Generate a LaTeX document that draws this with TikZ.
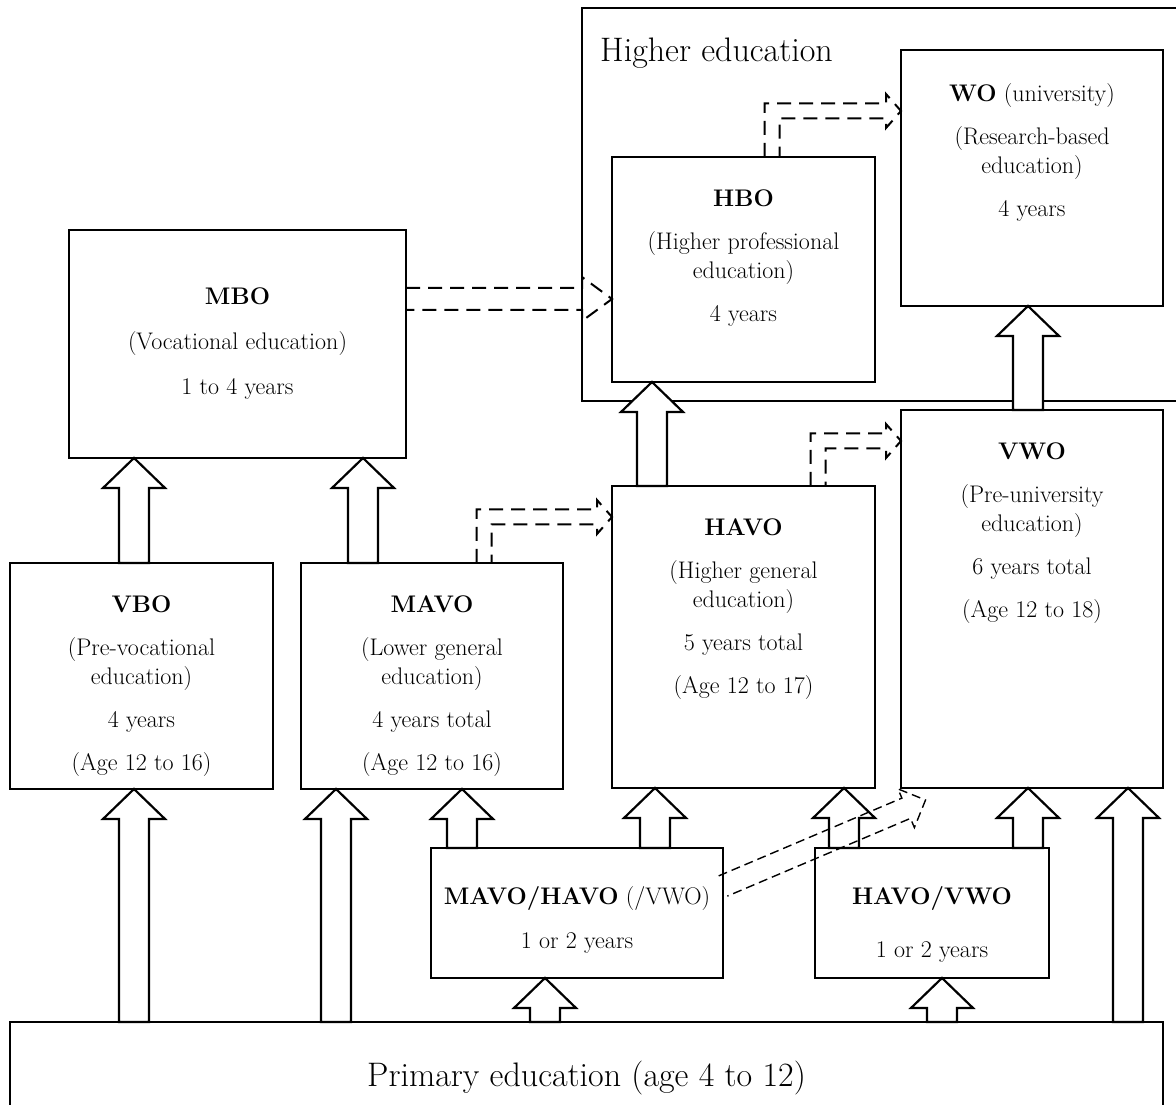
\documentclass[tikz,border=0pt]{standalone}
\usetikzlibrary{calc}

\tikzset{
  box/.style={draw, line width=1.3pt, inner sep=0pt, outer sep=0pt, anchor=north west},
  boxtext/.style={anchor=north, align=center, inner sep=0pt, font=\fontsize{24}{29}\selectfont},
  bigtext/.style={inner sep=0pt, font=\fontsize{34}{40}\selectfont},
  blockarrow/.style={draw, line width=2.2pt, fill=white, line join=miter},
  dasharrow/.style={draw, line width=2pt, dash pattern=on 14pt off 8pt},
  thindash/.style={draw, line width=1.4pt, dash pattern=on 9pt off 5pt},
}

% hollow arrow pointing up: [half shaft]{x}{from}{to}
\newcommand{\blockup}[4][15]{%
  \draw[blockarrow] let \p1=(#3), \p2=(#4) in
    (#2pt-#1pt,\y1) -- (#2pt-#1pt,\y2-30pt) -- (#2pt-31pt,\y2-30pt) -- (#2pt,\y2)
    -- (#2pt+31pt,\y2-30pt) -- (#2pt+#1pt,\y2-30pt) -- (#2pt+#1pt,\y1) -- cycle;}

% dashed outline arrow, up then right: {x}{from}{y}{to}
\newcommand{\elbowdash}[4]{%
  \draw[dasharrow] let \p1=(#2), \p2=(#4) in
    (#1pt-7.5pt,\y1) -- (#1pt-7.5pt,#3pt+7.5pt) -- (\x2-15pt,#3pt+7.5pt) -- (\x2-15pt,#3pt+17pt)
    -- (\x2,#3pt) -- (\x2-15pt,#3pt-17pt) -- (\x2-15pt,#3pt-7.5pt) -- (#1pt+7.5pt,#3pt-7.5pt)
    -- (#1pt+7.5pt,\y1);}

\begin{document}
\begin{tikzpicture}[x=1pt, y=1pt]
  \useasboundingbox (0,0) rectangle (1176,1104);

  % boxes
  \node[box, minimum width=608pt, minimum height=393pt] (hed) at (582,1096) {};
  \node[bigtext, anchor=west] (hed-t) at (600,1051) {Higher education};
  \node[box, minimum width=262pt, minimum height=256pt] (wo) at (901,1054) {};
  \node[box, minimum width=263pt, minimum height=225pt] (hbo) at (612,947) {};
  \node[box, minimum width=337pt, minimum height=228pt] (mbo) at (69,874) {};
  \node[box, minimum width=263pt, minimum height=226pt] (vbo) at (10,541) {};
  \node[box, minimum width=262pt, minimum height=226pt] (mavo) at (301,541) {};
  \node[box, minimum width=263pt, minimum height=302pt] (havo) at (612,618) {};
  \node[box, minimum width=262pt, minimum height=378pt] (vwo) at (901,694) {};
  \node[box, minimum width=292pt, minimum height=130pt] (mh) at (431,256) {};
  \node[box, minimum width=234pt, minimum height=130pt] (hv) at (815,256) {};
  \node[box, minimum width=1153pt, minimum height=112pt] (prim) at (10,82) {};
  \node[bigtext] (prim-t) at (prim.center) {Primary education (age 4 to 12)};

  % texts
  \node[boxtext] (wo-t) at ($(wo.north)+(0,-33)$)
    {\textbf{WO} (university)\\[14pt] (Research-based\\ education)\\[14pt] 4 years};
  \node[boxtext] (hbo-t) at ($(hbo.north)+(0,-33)$)
    {\textbf{HBO}\\[14pt] (Higher professional\\ education)\\[14pt] 4 years};
  \node[boxtext] (mbo-t) at ($(mbo.north)+(0,-58)$)
    {\textbf{MBO}\\[16pt] (Vocational education)\\[16pt] 1 to 4 years};
  \node[boxtext] (vbo-t) at ($(vbo.north)+(0,-33)$)
    {\textbf{VBO}\\[14pt] (Pre-vocational\\ education)\\[14pt] 4 years\\[14pt] (Age 12 to 16)};
  \node[boxtext] (mavo-t) at ($(mavo.north)+(0,-33)$)
    {\textbf{MAVO}\\[14pt] (Lower general\\ education)\\[14pt] 4 years total\\[14pt] (Age 12 to 16)};
  \node[boxtext] (havo-t) at ($(havo.north)+(0,-33)$)
    {\textbf{HAVO}\\[14pt] (Higher general\\ education)\\[14pt] 5 years total\\[14pt] (Age 12 to 17)};
  \node[boxtext] (vwo-t) at ($(vwo.north)+(0,-33)$)
    {\textbf{VWO}\\[14pt] (Pre-university\\ education)\\[14pt] 6 years total\\[14pt] (Age 12 to 18)};
  \node[boxtext] (mh-t) at ($(mh.north)+(0,-38)$)
    {\textbf{MAVO/HAVO} (/VWO)\\[15pt] 1 or 2 years};
  \node[boxtext] (hv-t) at ($(hv.north)+(0,-38)$)
    {\textbf{HAVO/VWO}\\[24pt] 1 or 2 years};

  % hollow arrows
  \blockup{134}{vbo.north}{mbo.south}
  \blockup{363}{mavo.north}{mbo.south}
  \blockup{134}{prim.north}{vbo.south}
  \blockup{336}{prim.north}{mavo.south}
  \blockup{462}{mh.north}{mavo.south}
  \blockup{655}{mh.north}{havo.south}
  \blockup{545}{prim.north}{mh.south}
  \blockup{652}{havo.north}{hbo.south}
  \blockup{844}{hv.north}{havo.south}
  \blockup{1028}{hv.north}{vwo.south}
  \blockup{942}{prim.north}{hv.south}
  \blockup{1128}{prim.north}{vwo.south}
  \blockup{1028}{vwo.north}{wo.south}

  % dashed arrows
  \draw[dasharrow] let \p1=(mbo.east), \p2=(hbo.west) in
    (\x1,816pt) -- (\x2-30pt,816pt) -- (\x2-30pt,827pt) -- (\x2,805pt)
    -- (\x2-30pt,783pt) -- (\x2-30pt,794pt) -- (\x1,794pt);
  \elbowdash{772}{hbo.north}{993}{wo.west}
  \elbowdash{484}{mavo.north}{587}{havo.west}
  \elbowdash{818}{havo.north}{663}{vwo.west}

  \coordinate (dtail) at ($(mh.east)+(0,27)$);
  \begin{scope}[shift={(dtail)}, rotate=23]
    \draw[thindash] (0,11) -- (199,11) -- (199,21) -- (220,0) -- (199,-21) -- (199,-11) -- (0,-11);
  \end{scope}
\end{tikzpicture}
\end{document}
